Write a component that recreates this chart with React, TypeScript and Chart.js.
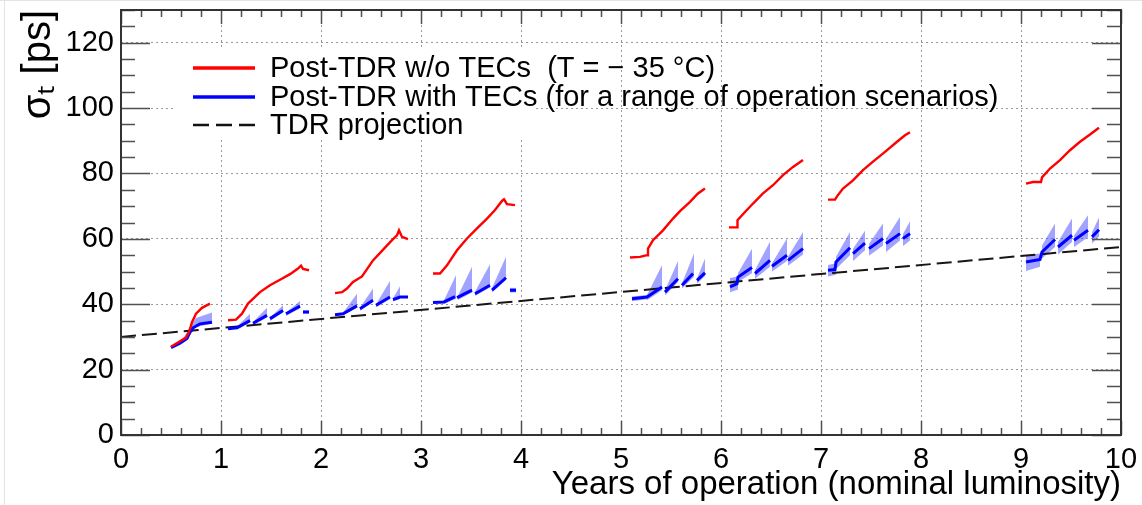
import React, { useEffect, useRef } from "react";
import { Chart, registerables } from "chart.js";

Chart.register(...registerables);

const FONT = "'Liberation Sans', Arial, Helvetica, sans-serif";

const xTickValues = [0, 1, 2, 3, 4, 5, 6, 7, 8, 9, 10];
const yTickValues = [0, 20, 40, 60, 80, 100, 120];

const xTitle = "Years of operation (nominal luminosity)";
const yTitle = "σₜ [ps]";

const legendLabels = [
  "Post-TDR w/o TECs  (T = − 35 °C)",
  "Post-TDR with TECs (for a range of operation scenarios)",
  "TDR projection",
];

// Red: Post-TDR w/o TECs (null separates operation years)
const redX = [
  0.5, 0.59, 0.65, 0.68, 0.71, 0.75, 0.81, 0.89, null,
  1.07, 1.15, 1.21, 1.27, 1.39, 1.49, 1.59, 1.69, 1.77, 1.8, 1.82, 1.88, null,
  2.14, 2.21, 2.26, 2.32, 2.41, 2.52, 2.64, 2.71, 2.76, 2.78, 2.81, 2.87, null,
  3.12, 3.19, 3.26, 3.36, 3.46, 3.56, 3.66, 3.74, 3.81, 3.83, 3.86, 3.94, null,
  5.09, 5.19, 5.26, 5.27, 5.32, 5.42, 5.52, 5.59, 5.69, 5.77, 5.84, null,
  6.08, 6.16, 6.165, 6.24, 6.32, 6.42, 6.52, 6.62, 6.72, 6.82, null,
  7.07, 7.14, 7.16, 7.22, 7.32, 7.42, 7.52, 7.64, 7.76, 7.84, 7.89, null,
  9.05, 9.12, 9.2, 9.21, 9.29, 9.39, 9.49, 9.59, 9.69, 9.78,
];
const redY = [
  27.0, 28.7, 29.8, 31.5, 34.5, 37.1, 38.9, 40.2, null,
  35.1, 35.3, 37.1, 40.2, 43.7, 45.8, 47.5, 49.2, 50.9, 51.8, 50.8, 50.4, null,
  43.4, 43.7, 44.8, 46.8, 48.5, 53.4, 57.3, 59.6, 61.1, 62.6, 60.6, 59.9, null,
  49.4, 49.4, 51.9, 56.5, 60.1, 63.2, 66.2, 68.8, 71.6, 72.1, 70.6, 70.3, null,
  54.3, 54.5, 55.0, 57.0, 59.6, 62.6, 66.2, 68.5, 71.3, 73.9, 75.4, null,
  63.5, 63.5, 65.7, 68.2, 70.8, 73.9, 76.4, 79.5, 82.0, 84.1, null,
  72.0, 72.0, 73.0, 75.4, 77.9, 81.0, 83.6, 86.6, 89.7, 91.7, 92.6, null,
  76.9, 77.4, 77.4, 78.8, 81.5, 84.1, 87.1, 89.7, 91.9, 94.0,
];

// Blue: Post-TDR with TECs, central line
const blueX = [
  0.5, 0.59, 0.66, 0.69, 0.72, 0.79, 0.91, null,
  1.07, 1.16, 1.29, null, 1.32, 1.46, null, 1.49, 1.62, null, 1.65, 1.79, null, 1.82, 1.88, null,
  2.14, 2.22, 2.36, null, 2.39, 2.52, null, 2.55, 2.69, null, 2.72, 2.79, 2.87, null,
  3.12, 3.23, 3.34, null, 3.36, 3.51, null, 3.54, 3.69, null, 3.71, 3.85, null, 3.89, 3.95, null,
  5.11, 5.26, 5.41, null, 5.44, 5.57, null, 5.61, 5.72, null, 5.76, 5.84, null,
  6.09, 6.16, 6.17, 6.31, null, 6.34, 6.49, null, 6.51, 6.66, null, 6.67, 6.82, null,
  7.07, 7.14, 7.15, 7.29, null, 7.32, 7.44, null, 7.48, 7.62, null, 7.65, 7.79, null, 7.82, 7.89, null,
  9.05, 9.19, 9.21, 9.34, null, 9.37, 9.51, null, 9.53, 9.67, null, 9.71, 9.78,
];
const blueY = [
  26.7, 28.1, 29.5, 31.5, 32.8, 34.0, 34.5, null,
  32.5, 32.8, 35.0, null, 34.2, 36.6, null, 35.6, 38.1, null, 37.1, 39.4, null, 37.6, 37.6, null,
  36.8, 37.1, 39.5, null, 38.6, 41.2, null, 39.7, 42.2, null, 41.4, 42.2, 42.2, null,
  40.5, 40.7, 42.3, null, 42.0, 44.3, null, 43.2, 45.8, null, 44.3, 48.1, null, 44.3, 44.3, null,
  41.7, 42.2, 45.3, null, 43.7, 47.8, null, 45.8, 49.4, null, 47.3, 49.6, null,
  45.3, 46.3, 48.3, 51.2, null, 49.4, 53.4, null, 51.6, 55.0, null, 53.4, 57.0, null,
  50.4, 50.6, 52.9, 57.3, null, 55.5, 58.7, null, 57.0, 60.1, null, 58.6, 61.6, null, 60.1, 61.6, null,
  52.9, 53.7, 56.0, 59.8, null, 57.5, 61.1, null, 59.6, 62.6, null, 60.6, 62.8,
];

// Blue band: range of operation scenarios (upper / lower envelope)
const bandX = [
  0.62, 0.7, 0.75, 0.91, null,
  1.16, 1.29, null, 1.32, 1.46, null, 1.49, 1.62, null, 1.65, 1.79, null, 1.82, 1.88, null,
  2.22, 2.36, null, 2.39, 2.52, null, 2.55, 2.69, null, 2.72, 2.79, null,
  3.23, 3.35, null, 3.37, 3.51, null, 3.54, 3.69, null, 3.71, 3.85, null, 3.89, 3.95, null,
  5.11, 5.26, null, 5.26, 5.41, null, 5.44, 5.57, null, 5.61, 5.73, null, 5.76, 5.84, null,
  6.09, 6.17, null, 6.17, 6.31, null, 6.34, 6.49, null, 6.51, 6.66, null, 6.67, 6.82, null,
  7.07, 7.15, null, 7.15, 7.29, null, 7.32, 7.44, null, 7.48, 7.62, null, 7.65, 7.79, null, 7.82, 7.89, null,
  9.05, 9.19, null, 9.21, 9.34, null, 9.37, 9.51, null, 9.53, 9.67, null, 9.71, 9.78,
];
const bandHi = [
  29.5, 33.5, 35.8, 37.5, null,
  33.2, 37.1, null, 34.6, 38.9, null, 35.9, 39.7, null, 37.4, 41.0, null, 38.1, 38.1, null,
  37.4, 43.2, null, 38.9, 44.8, null, 40.0, 47.1, null, 41.8, 45.5, null,
  41.2, 48.9, null, 42.6, 51.5, null, 43.8, 52.2, null, 45.0, 54.5, null, 45.0, 45.0, null,
  42.4, 42.8, null, 42.8, 51.9, null, 44.3, 53.2, null, 46.4, 55.5, null, 47.9, 54.0, null,
  48.0, 48.5, null, 49.5, 57.0, null, 50.5, 59.1, null, 52.5, 60.1, null, 54.5, 62.1, null,
  52.0, 52.5, null, 54.5, 62.1, null, 57.0, 62.5, null, 58.5, 64.7, null, 60.0, 66.7, null, 61.5, 65.4, null,
  55.0, 55.5, null, 58.0, 64.7, null, 59.0, 66.2, null, 61.0, 67.2, null, 62.0, 66.5,
];
const bandLo = [
  28.4, 31.0, 33.0, 34.0, null,
  32.3, 34.5, null, 33.6, 36.0, null, 34.9, 37.5, null, 36.4, 38.8, null, 37.1, 37.1, null,
  36.6, 39.0, null, 38.0, 40.6, null, 39.1, 41.6, null, 40.8, 41.6, null,
  40.1, 41.7, null, 41.3, 43.6, null, 42.5, 45.1, null, 43.6, 47.4, null, 43.6, 43.6, null,
  40.9, 41.5, null, 41.2, 44.3, null, 42.7, 46.8, null, 44.8, 48.4, null, 46.3, 48.6, null,
  43.7, 44.5, null, 46.8, 49.5, null, 47.8, 51.5, null, 50.0, 53.2, null, 51.8, 55.2, null,
  48.5, 49.0, null, 50.8, 55.0, null, 53.2, 56.5, null, 54.8, 58.0, null, 56.0, 59.5, null, 57.8, 59.5, null,
  50.2, 51.5, null, 54.0, 57.5, null, 55.2, 59.0, null, 57.5, 60.5, null, 58.6, 60.8,
];

// Black dashed: TDR projection
const tdrX = [0, 10];
const tdrY = [30, 57.5];

type Pt = { x: number; y: number | null };

function toPoints(xs: (number | null)[], ys: (number | null)[]): Pt[] {
  const out: Pt[] = [];
  let last = 0;
  xs.forEach((x, i) => {
    if (x === null || ys[i] === null) {
      out.push({ x: last, y: null });
    } else {
      last = x;
      out.push({ x, y: ys[i] as number });
    }
  });
  return out;
}

function groups(xs: (number | null)[]): number[][] {
  const res: number[][] = [];
  let cur: number[] = [];
  xs.forEach((x, i) => {
    if (x === null) {
      if (cur.length) res.push(cur);
      cur = [];
    } else cur.push(i);
  });
  if (cur.length) res.push(cur);
  return res;
}

const LEGEND = { boxX0: 176, boxY0: 50, boxX1: 535, boxY1: 140, lineX0: 193, lineX1: 255, textX: 270, rows: [68, 97, 125] };

const rootStyle = {
  id: "rootStyle",
  beforeDraw(chart: any) {
    const ctx = chart.ctx;
    ctx.save();
    ctx.strokeStyle = "#e4e4e4";
    ctx.lineWidth = 1;
    ctx.beginPath();
    ctx.moveTo(0, 0.5);
    ctx.lineTo(1142, 0.5);
    ctx.moveTo(4.5, 0);
    ctx.lineTo(4.5, 505);
    ctx.stroke();
    ctx.restore();
  },
  beforeDatasetsDraw(chart: any) {
    const ctx = chart.ctx;
    ctx.save();
    ctx.fillStyle = "#ffffff";
    ctx.fillRect(LEGEND.boxX0, LEGEND.boxY0, LEGEND.boxX1 - LEGEND.boxX0, LEGEND.boxY1 - LEGEND.boxY0);
    ctx.restore();
  },
  afterDatasetsDraw(chart: any) {
    const ctx = chart.ctx;
    const { left, right, top, bottom } = chart.chartArea;
    const xs = chart.scales.x;
    const ys = chart.scales.y;
    ctx.save();
    ctx.strokeStyle = "#505050";
    ctx.lineWidth = 1.5;
    ctx.beginPath();
    for (let i = 0; i <= 50; i++) {
      const px = Math.round(xs.getPixelForValue(i * 0.2)) + 0.5;
      const L = i % 5 === 0 ? 14 : 7;
      ctx.moveTo(px, bottom);
      ctx.lineTo(px, bottom - L);
      ctx.moveTo(px, top);
      ctx.lineTo(px, top + L);
    }
    for (let i = 0; i <= 26; i++) {
      const v = i * 5;
      const py = Math.round(ys.getPixelForValue(v)) + 0.5;
      const L = v % 20 === 0 ? 29 : 14;
      ctx.moveTo(left, py);
      ctx.lineTo(left + L, py);
      ctx.moveTo(right, py);
      ctx.lineTo(right - L, py);
    }
    ctx.stroke();
    ctx.strokeStyle = "#333333";
    ctx.lineWidth = 2;
    ctx.strokeRect(left, top, right - left, bottom - top);

    // legend
    const styles = [
      { color: "#ff0000", width: 3.5, dash: [] as number[] },
      { color: "#0000ff", width: 3.5, dash: [] as number[] },
      { color: "#111111", width: 2.5, dash: [16, 7] },
    ];
    ctx.font = `29px ${FONT}`;
    ctx.textBaseline = "middle";
    ctx.textAlign = "left";
    legendLabels.forEach((label, i) => {
      const y = LEGEND.rows[i];
      const s = styles[i];
      ctx.beginPath();
      ctx.strokeStyle = s.color;
      ctx.lineWidth = s.width;
      ctx.setLineDash(s.dash);
      ctx.moveTo(LEGEND.lineX0, y);
      ctx.lineTo(LEGEND.lineX1, y);
      ctx.stroke();
      ctx.setLineDash([]);
      ctx.fillStyle = "#000000";
      ctx.fillText(label, LEGEND.textX, y + 1);
    });
    ctx.restore();
  },
};

export default function App() {
  const ref = useRef<HTMLCanvasElement | null>(null);

  useEffect(() => {
    if (!ref.current) return;
    const datasets: any[] = [
      {
        label: legendLabels[0],
        data: toPoints(redX, redY),
        borderColor: "#ff0000",
        borderWidth: 2.4,
        pointRadius: 0,
        fill: false,
        spanGaps: false,
      },
      {
        label: legendLabels[1],
        data: toPoints(blueX, blueY),
        borderColor: "#0000ff",
        borderWidth: 3,
        pointRadius: 0,
        fill: false,
        spanGaps: false,
      },
      {
        label: legendLabels[2],
        data: toPoints(tdrX, tdrY),
        borderColor: "#1a1414",
        borderWidth: 2,
        borderDash: [15, 6],
        pointRadius: 0,
        fill: false,
      },
    ];
    groups(bandX).forEach((idx) => {
      datasets.push({
        label: "band-hi",
        data: idx.map((i) => ({ x: bandX[i] as number, y: bandHi[i] as number })),
        borderWidth: 0,
        borderColor: "rgba(0,0,0,0)",
        backgroundColor: "rgba(70,70,255,0.5)",
        pointRadius: 0,
        fill: "+1",
      });
      datasets.push({
        label: "band-lo",
        data: idx.map((i) => ({ x: bandX[i] as number, y: bandLo[i] as number })),
        borderWidth: 0,
        borderColor: "rgba(0,0,0,0)",
        pointRadius: 0,
        fill: false,
      });
    });

    const chart = new Chart(ref.current, {
      type: "line",
      data: { datasets },
      options: {
        responsive: false,
        animation: false,
        events: [],
        layout: { padding: { top: 10, right: 21, left: 0, bottom: 0 } },
        plugins: {
          legend: { display: false },
          tooltip: { enabled: false },
        },
        scales: {
          x: {
            type: "linear",
            min: 0,
            max: 10,
            afterBuildTicks: (s: any) => {
              s.ticks = xTickValues.map((v) => ({ value: v }));
            },
            afterFit: (s: any) => {
              s.height = 70;
              s.paddingLeft = 0;
              s.paddingRight = 0;
            },
            ticks: {
              font: { family: FONT, size: 29 },
              color: "#000",
              padding: 8,
              maxRotation: 0,
              autoSkip: false,
              callback: (v: any) => String(v),
            },
            grid: { color: "#9a9a9a", lineWidth: 1, drawTicks: false },
            border: { display: false, dash: [2, 3] },
            title: {
              display: true,
              text: xTitle,
              align: "end",
              color: "#000",
              font: { family: FONT, size: 33 },
              padding: { top: 0, bottom: 0 },
            },
          },
          y: {
            type: "linear",
            min: 0,
            max: 130,
            afterBuildTicks: (s: any) => {
              s.ticks = yTickValues.map((v) => ({ value: v }));
            },
            afterFit: (s: any) => {
              s.width = 121;
              s.paddingTop = 0;
              s.paddingBottom = 0;
            },
            ticks: {
              font: { family: FONT, size: 29 },
              color: "#000",
              padding: 7,
              autoSkip: false,
              callback: (v: any) => String(v),
            },
            grid: { color: "#9a9a9a", lineWidth: 1, drawTicks: false },
            border: { display: false, dash: [2, 3] },
            title: {
              display: true,
              text: yTitle,
              align: "end",
              color: "#000",
              font: { family: FONT, size: 40 },
              padding: { top: 15, bottom: 0 },
            },
          },
        },
      },
      plugins: [rootStyle],
    } as any);
    return () => chart.destroy();
  }, []);

  return (
    <div style={{ position: "fixed", left: 0, top: 0, width: 1142, height: 505, background: "#fff" }}>
      <canvas ref={ref} width={1142} height={505} style={{ display: "block" }} />
    </div>
  );
}
